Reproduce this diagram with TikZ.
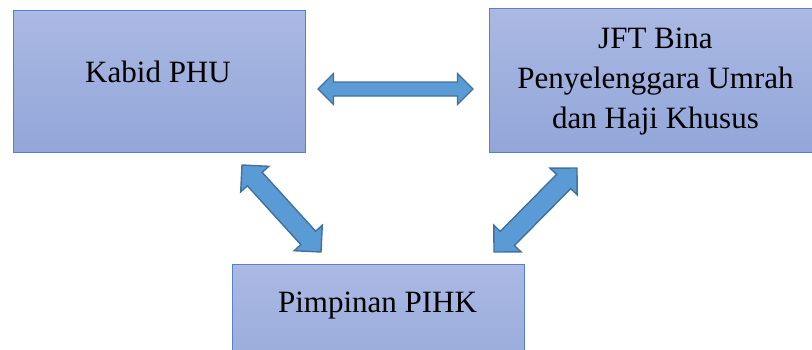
\documentclass[tikz,border=0pt]{standalone}
\usepackage{fontspec}
\setmainfont{Liberation Serif}
\usetikzlibrary{calc}

\definecolor{boxtop}{RGB}{171,185,227}
\definecolor{boxbot}{RGB}{146,166,217}
\definecolor{boxline}{RGB}{84,128,206}
\definecolor{arrowfill}{RGB}{91,155,213}
\definecolor{arrowline}{RGB}{65,113,156}

\tikzset{
  unitbox/.style={draw=boxline, line width=1pt, top color=boxtop, bottom color=boxbot,
    minimum width=292pt, minimum height=142pt, inner sep=0pt},
  boxtext/.style={font=\fontsize{31}{40}\selectfont, align=center, inner sep=0pt},
  blockarrow/.style={fill=arrowfill, draw=arrowline, line width=1.4pt, line join=miter}
}

% block arrow with two heads: tips #1 and #2, head size #3, half shaft #4
\newcommand{\dblarrow}[4]{%
  \draw[blockarrow] (#1)
    -- ($(#1)!#3!(#2)!#3!90:(#2)$)
    -- ($(#1)!#3!(#2)!#4!90:(#2)$)
    -- ($(#2)!#3!(#1)!#4!-90:(#1)$)
    -- ($(#2)!#3!(#1)!#3!-90:(#1)$)
    -- (#2)
    -- ($(#2)!#3!(#1)!#3!90:(#1)$)
    -- ($(#2)!#3!(#1)!#4!90:(#1)$)
    -- ($(#1)!#3!(#2)!#4!-90:(#2)$)
    -- ($(#1)!#3!(#2)!#3!-90:(#2)$)
    -- cycle;}

\begin{document}
\begin{tikzpicture}[x=1pt,y=-1pt]
\useasboundingbox (0,0) rectangle (812,349);
\clip (0,0) rectangle (812,349);

% the three boxes
\node[unitbox] (kabid) at (159,81) {};
\node[unitbox, minimum width=333pt, minimum height=144pt] (jft) at (655.5,80) {};
\node[unitbox] (pihk) at (378,335) {};

\node[boxtext, anchor=base] (kabidtxt) at (158,82) {Kabid PHU};
% base of a three line node is the last line
\node[boxtext, anchor=base] (jfttxt) at (655.5,128) {JFT Bina\\Penyelenggara Umrah\\dan Haji Khusus};
\node[boxtext, anchor=base] (pihktxt) at (377.5,312) {Pimpinan PIHK};

% arrow tips
\coordinate (hl) at (318,89);
\coordinate (hr) at (473,89);
\coordinate (dl1) at (242,165);
\coordinate (dl2) at (321,252);
\coordinate (dr1) at (577,168);
\coordinate (dr2) at (494,252);

\dblarrow{hl}{hr}{15.5pt}{7pt}
\dblarrow{dl1}{dl2}{19pt}{10pt}
\dblarrow{dr1}{dr2}{19pt}{10pt}

\end{tikzpicture}
\end{document}
